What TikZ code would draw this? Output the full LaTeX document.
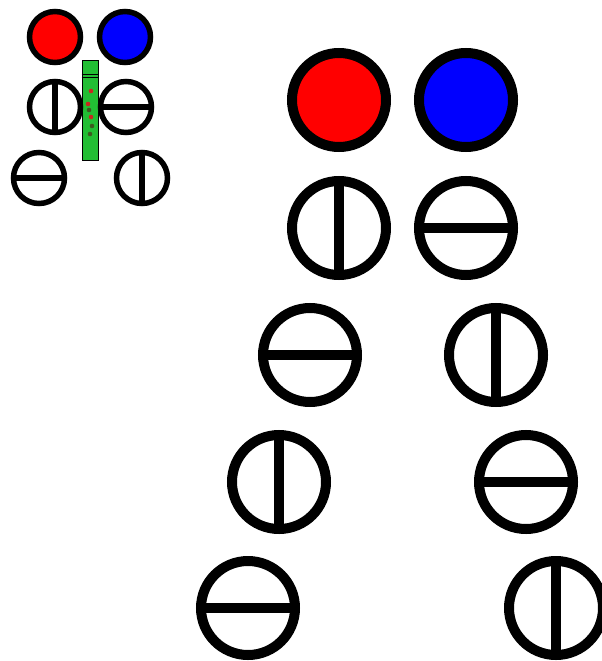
\documentclass[tikz,border=0pt]{standalone}
\usepackage{tikz}
\usepackage{xcolor}
\usetikzlibrary{positioning}
\definecolor{stripgreen}{RGB}{34,190,52}
\definecolor{dotred}{RGB}{200,40,30}
\definecolor{dotdark}{RGB}{60,90,30}

\tikzset{
    bigdisk/.style={circle, draw=black, line width=10pt, minimum size=94pt, inner sep=0pt},
    smalldisk/.style={circle, draw=black, line width=5.5pt, minimum size=51pt, inner sep=0pt},
    bigbar/.style={line width=10pt},
    smallbar/.style={line width=5.5pt},
    strip/.style={rectangle, draw=black, line width=0.8pt, fill=stripgreen,
        minimum width=16pt, minimum height=100pt, inner sep=0pt}
}

\begin{document}
\begin{tikzpicture}[x=1pt, y=-1pt]
    \useasboundingbox[fill=white] (0,0) rectangle (602,661);

    % small copy with the green strip
    \node[strip] (strip) at (90,110) {};
    \draw[line width=0.8pt] ([yshift=-15pt]strip.north west) -- ([yshift=-15pt]strip.north east);
    \draw[line width=0.8pt] ([yshift=-18pt]strip.north west) -- ([yshift=-18pt]strip.north east);
    \foreach \px/\py/\c in {91/91/dotred, 88/104/dotred, 89/110/dotdark, 91/117/dotred, 92/126/dotdark, 90/134/dotdark}
        \fill[\c] (\px,\py) circle (2.3pt);

    \node[smalldisk, fill=red] (sL1) at (55,37) {};
    \node[smalldisk, fill=blue] (sR1) at (125,37) {};
    \node[smalldisk] (sL2) at (55,107) {};
    \node[smalldisk] (sR2) at (126,107) {};
    \node[smalldisk] (sL3) at (39,178) {};
    \node[smalldisk] (sR3) at (142,178) {};
    \foreach \n in {sL2,sR3}
        \draw[smallbar] (\n.north) -- (\n.south);
    \foreach \n in {sR2,sL3}
        \draw[smallbar] (\n.west) -- (\n.east);

    % large ladder
    \node[bigdisk, fill=red] (L1) at (339,100) {};
    \node[bigdisk, fill=blue] (R1) at (466,100) {};
    \foreach \i/\xl/\xr/\y in {2/339/466/228, 3/310/496/355, 4/279/526/482, 5/248/556/608} {
        \node[bigdisk] (L\i) at (\xl,\y) {};
        \node[bigdisk] (R\i) at (\xr,\y) {};
    }
    \foreach \n in {L2,R3,L4,R5}
        \draw[bigbar] (\n.north) -- (\n.south);
    \foreach \n in {R2,L3,R4,L5}
        \draw[bigbar] (\n.west) -- (\n.east);
\end{tikzpicture}
\end{document}
